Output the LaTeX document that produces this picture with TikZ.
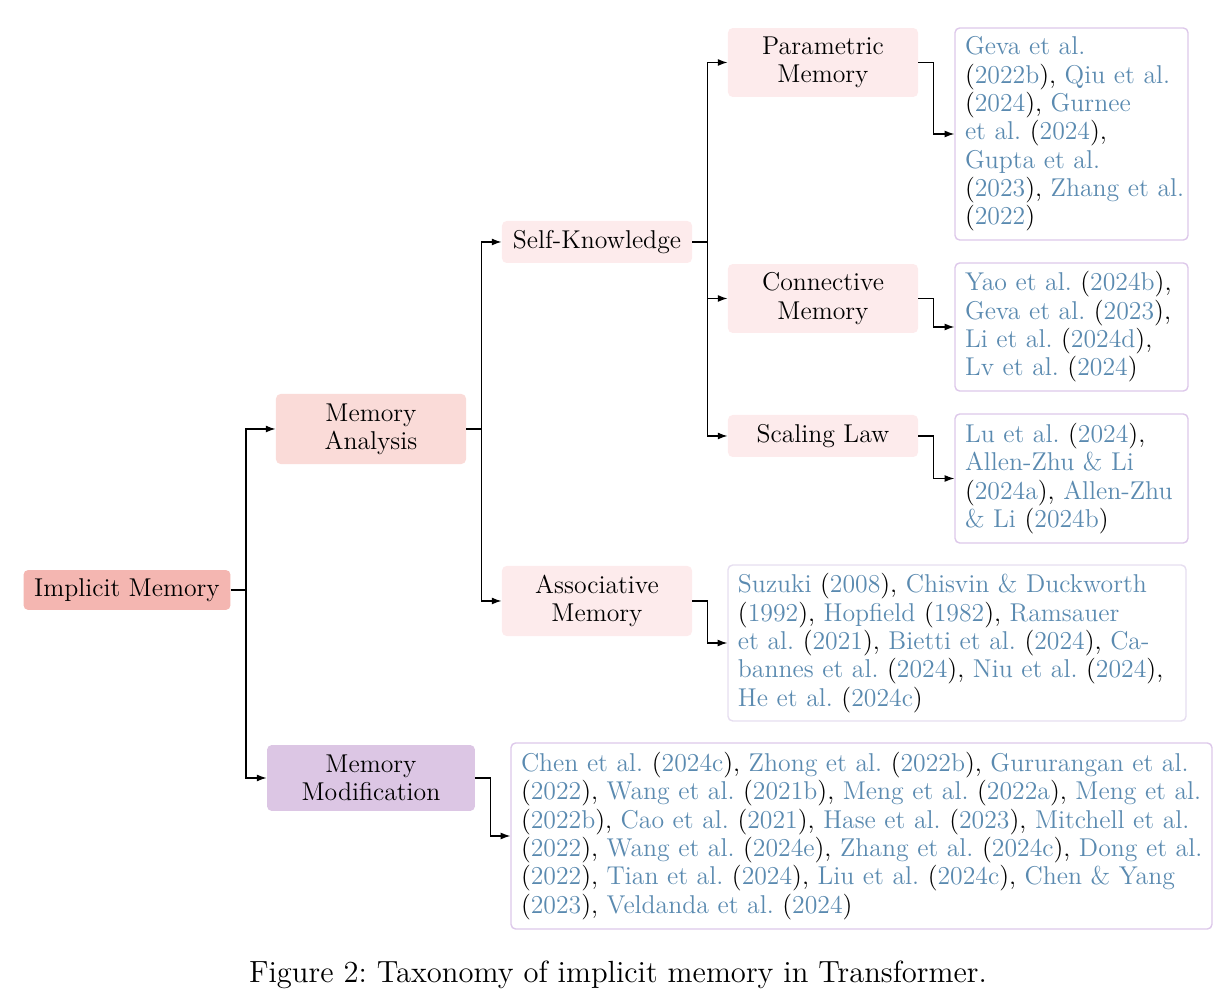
\documentclass[tikz,border=0pt]{standalone}
\usetikzlibrary{arrows.meta}
\definecolor{citc}{HTML}{5A8AB0}
\definecolor{rootc}{HTML}{F4B6B1}
\definecolor{anac}{HTML}{FADBD8}
\definecolor{subc}{HTML}{FDEBEC}
\definecolor{modc}{HTML}{DCC6E4}
\definecolor{leafc}{HTML}{DDC8EA}
\definecolor{leafd}{HTML}{E6DEF0}
\newcommand{\cc}[1]{{\color{citc}#1}}
\frenchspacing
\hbadness=10000 \hfuzz=20pt
\begin{document}
\begin{tikzpicture}[x=0.431pt,y=-0.431pt,
  font=\fontsize{11.1}{12.2}\selectfont,
  box/.style={rounded corners=2pt, align=center, inner sep=1pt, minimum width=81.9pt},
  leaf/.style={draw=leafc, fill=white, line width=0.6pt, rounded corners=2pt, align=left, inner xsep=4.3pt, inner ysep=2pt},
  conn/.style={line width=0.5pt, -{Latex[length=4.2pt,width=3pt]}}]
\useasboundingbox (0,0) rectangle (1217,1008);
% internal nodes
\node[box, fill=rootc, minimum width=89.2pt, minimum height=17.2pt] (im) at (127,590) {Implicit Memory};
\node[box, fill=anac, minimum height=30.2pt] (ma) at (371,429) {Memory\\Analysis};
\node[box, fill=modc, minimum width=89.6pt, minimum height=28.4pt] (mm) at (371,778) {Memory\\Modification};
\node[box, fill=subc, minimum height=18.1pt] (sk) at (597,242) {Self-Knowledge};
\node[box, fill=subc, minimum height=30.2pt] (am) at (597,601) {Associative\\Memory};
\node[box, fill=subc, minimum height=29.7pt] (pm) at (823,62.5) {Parametric\\Memory};
\node[box, fill=subc, minimum height=29.7pt] (cm) at (823,298.5) {Connective\\Memory};
\node[box, fill=subc, minimum height=18.1pt] (sl) at (823,436) {Scaling Law};
% leaves
\node[leaf, text width=91.8pt, minimum height=91.4pt] (lp) at (1071.5,134) {\cc{Geva et al.}\\ (\cc{2022b}), \cc{Qiu et al.}\\ (\cc{2024}), \cc{Gurnee}\\ \cc{et al.} (\cc{2024}),\\ \cc{Gupta et al.}\\ \mbox{(\cc{2023}), \cc{Zhang et al.}}\\ (\cc{2022})};
\node[leaf, text width=91.8pt, minimum height=55.2pt] (lc) at (1071.5,327) {\cc{Yao et al.} (\cc{2024b}),\\ \cc{Geva et al.} (\cc{2023}),\\ \cc{Li et al.} (\cc{2024d}),\\ \cc{Lv et al.} (\cc{2024})};
\node[leaf, text width=91.8pt, minimum height=55.6pt] (ls) at (1071.5,478.5) {\cc{Lu et al.} (\cc{2024}),\\ \cc{Allen-Zhu \& Li}\\ (\cc{2024a}), \cc{Allen-Zhu}\\ \cc{\& Li} (\cc{2024b})};
\node[leaf, draw=leafd, text width=188.8pt, minimum height=67.2pt] (la) at (957,643) {\mbox{\cc{Suzuki} (\cc{2008}), \cc{Chisvin \& Duckworth}}\\ \mbox{(\cc{1992}), \cc{Hopfield} (\cc{1982}), \cc{Ramsauer}}\\ \mbox{\cc{et al.} (\cc{2021}), \cc{Bietti et al.} (\cc{2024}), \cc{Ca-}}\\ \mbox{\cc{bannes et al.} (\cc{2024}), \cc{Niu et al.} (\cc{2024}),}\\ \cc{He et al.} (\cc{2024c})};
\node[leaf, text width=293.5pt, minimum height=80.2pt] (lm) at (861.5,836) {\mbox{\cc{Chen et al.} (\cc{2024c}), \cc{Zhong et al.} (\cc{2022b}), \cc{Gururangan et al.}}\\ \mbox{(\cc{2022}), \cc{Wang et al.} (\cc{2021b}), \cc{Meng et al.} (\cc{2022a}), \cc{Meng et al.}}\\ \mbox{(\cc{2022b}), \cc{Cao et al.} (\cc{2021}), \cc{Hase et al.} (\cc{2023}), \cc{Mitchell et al.}}\\ \mbox{(\cc{2022}), \cc{Wang et al.} (\cc{2024e}), \cc{Zhang et al.} (\cc{2024c}), \cc{Dong et al.}}\\ \mbox{(\cc{2022}), \cc{Tian et al.} (\cc{2024}), \cc{Liu et al.} (\cc{2024c}), \cc{Chen \& Yang}}\\ (\cc{2023}), \cc{Veldanda et al.} (\cc{2024})};
% connectors
\draw[conn] (im.east) -- ++(15,0) |- (ma.west);
\draw[conn] (im.east) -- ++(15,0) |- (mm.west);
\draw[conn] (ma.east) -- ++(15,0) |- (sk.west);
\draw[conn] (ma.east) -- ++(15,0) |- (am.west);
\draw[conn] (sk.east) -- ++(15,0) |- (pm.west);
\draw[conn] (sk.east) -- ++(15,0) |- (cm.west);
\draw[conn] (sk.east) -- ++(15,0) |- (sl.west);
\draw[conn] (pm.east) -- ++(15,0) |- (lp.west);
\draw[conn] (cm.east) -- ++(15,0) |- (lc.west);
\draw[conn] (sl.east) -- ++(15,0) |- (ls.west);
\draw[conn] (am.east) -- ++(15,0) |- (la.west);
\draw[conn] (mm.east) -- ++(15,0) |- (lm.west);
% caption
\node[font=\fontsize{13.2}{16}\selectfont] (cap) at (618,975) {Figure 2: Taxonomy of implicit memory in Transformer.};
\end{tikzpicture}
\end{document}
